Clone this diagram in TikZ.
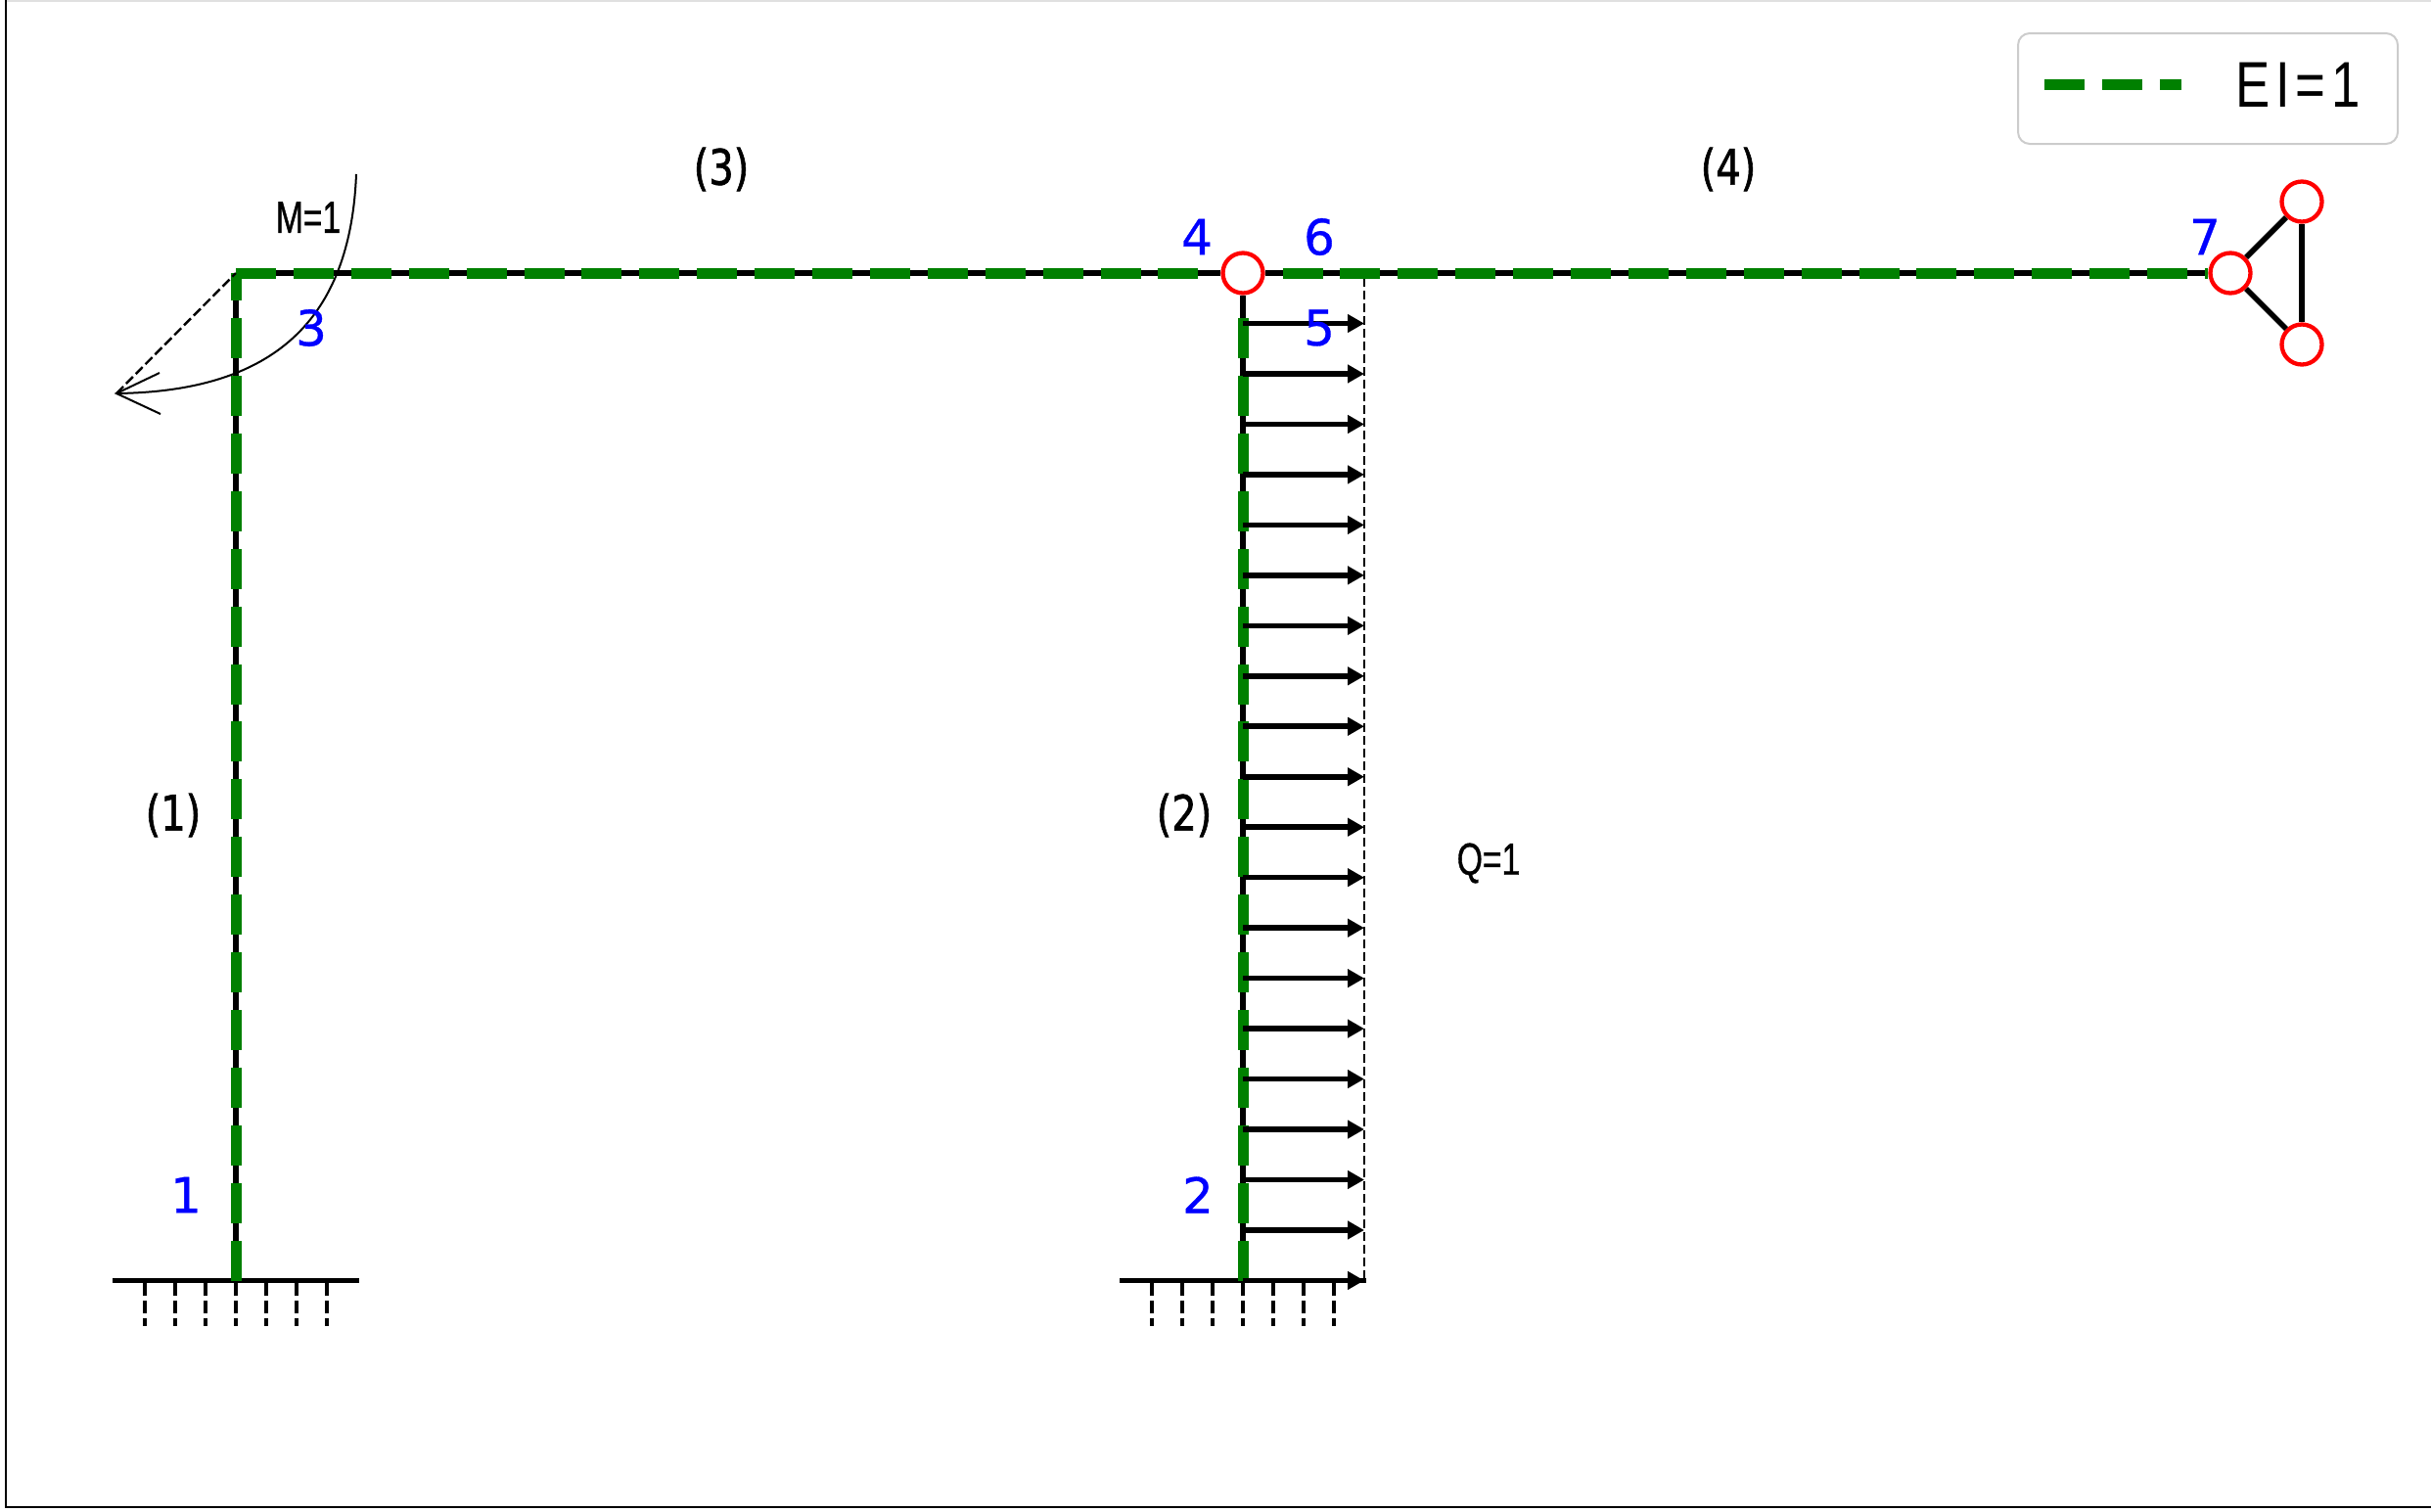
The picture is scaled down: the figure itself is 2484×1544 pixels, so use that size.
\documentclass[tikz,border=0pt]{standalone}
\usepackage{fontspec}
\setmainfont[FakeBold=0.6]{DejaVu Sans}
\newfontfamily\loadfont[FakeStretch=0.73,FakeBold=0.8]{Liberation Sans}
\newfontfamily\keyfont[FakeStretch=0.8,LetterSpace=9]{Liberation Sans}
\newfontfamily\memfont[FakeStretch=0.8,FakeBold=1.2]{DejaVu Sans}
\usetikzlibrary{arrows.meta}
\definecolor{eigreen}{RGB}{0,128,0}
\tikzset{
  member/.style={line width=2.8pt,black},
  stiff/.style={line width=5.5pt,eigreen,dash pattern=on 20.5pt off 8.95pt},
  hinge/.style={circle,draw=red,fill=white,line width=2.15pt,minimum size=20.5pt,inner sep=0pt},
  groundline/.style={line width=2.8pt,black},
  groundtick/.style={line width=1.6pt,black,dash pattern=on 6.5pt off 2.5pt},
  loadarrow/.style={line width=2.8pt,black,-{Triangle[length=8.5pt,width=9pt]}},
  loadedge/.style={line width=1.4pt,black,dash pattern=on 4.5pt off 2pt},
  nodenum/.style={text=blue,font=\fontsize{25}{25}\selectfont,inner sep=0pt},
  memnum/.style={text=black,font=\memfont\fontsize{25}{25}\selectfont,inner sep=0pt},
  loadtext/.style={text=black,font=\loadfont\fontsize{23}{23}\selectfont,inner sep=0pt},
}
\begin{document}
\begin{tikzpicture}[x=0.5pt,y=-0.5pt]
  \useasboundingbox (0,0) rectangle (2484,1544);
  % frame
  \draw[black!12,line width=1pt] (5,0.5) -- (2484,0.5);
  \draw[black,line width=1pt] (5.5,0) -- (5.5,1540) -- (2484,1540);

  % supports and joints
  \coordinate (n1) at (241,1308.5);
  \coordinate (n2) at (1270,1308.5);
  \coordinate (n3) at (241,279);
  \node[hinge] (n4) at (1270,279) {};
  \node[hinge] (n7) at (2279,279) {};
  \node[hinge] (n7a) at (2352,206) {};
  \node[hinge] (n7b) at (2352,352) {};

  % ground
  \foreach \base/\x in {n1/241,n2/1270} {
    \coordinate (\base l) at (\x-126,1308.5);
    \coordinate (\base r) at (\x+126,1308.5);
    \draw[groundline] (\base l) -- (\base r);
    \foreach \k in {-3,...,3} {
      \coordinate (\base t\k) at (\x+\k*31,1311);
      \coordinate (\base b\k) at (\x+\k*31,1355);
      \draw[groundtick] (\base t\k) -- (\base b\k);
    }
  }

  % members
  \draw[member] (n1) -- (n3);
  \draw[member] (n2) -- (n4);
  \draw[member] (n3) -- (n4);
  \draw[member] (n4) -- (n7);
  \draw[member] (n7) -- (n7a);
  \draw[member] (n7) -- (n7b);
  \draw[member] (n7a) -- (n7b);

  % load edge
  \coordinate (qtop) at (1394,284);
  \coordinate (qbot) at (1394,1308);
  \draw[loadedge] (qtop) -- (qbot);

  % stiffness overlay
  \draw[stiff] (n1) -- (n3);
  \draw[stiff,shorten >=6pt] (n2) -- (n4);
  \draw[stiff,shorten >=3pt] (n3) -- (n4);
  \draw[stiff,dash phase=20.5pt] (n4) -- (n7);

  % distributed load
  \foreach \k in {0,...,19} {
    \coordinate (qa\k) at (1270,330.5+\k*51.47);
    \coordinate (qb\k) at (1394,330.5+\k*51.47);
    \draw[loadarrow] (qa\k) -- (qb\k);
  }

  % moment
  \coordinate (mstart) at (364,178);
  \coordinate (mtip) at (119,402);
  \coordinate (mupper) at (163,381);
  \coordinate (mlower) at (164,423);
  \draw[line width=1pt] (mstart) .. controls (358,327) and (280,400) .. (mtip);
  \draw[line width=1pt] (mupper) -- (mtip) -- (mlower);
  \draw[line width=1.2pt,dash pattern=on 5pt off 2pt] (mtip) -- (n3);

  % labels
  \node[nodenum] (l1) at (190,1221) {1};
  \node[nodenum] (l2) at (1224,1221) {2};
  \node[nodenum] (l3) at (318,335) {3};
  \node[nodenum] (l4) at (1223,242) {4};
  \node[nodenum] (l5) at (1348,335) {5};
  \node[nodenum] (l6) at (1348,242) {6};
  \node[nodenum] (l7) at (2253,242) {7};
  \node[memnum] (m1) at (177,833) {(1)};
  \node[memnum] (m2) at (1210,833) {(2)};
  \node[memnum] (m3) at (737,173) {(3)};
  \node[memnum] (m4) at (1766,173) {(4)};
  \node[loadtext] (lm) at (315,222) {M=1};
  \node[loadtext] (lq) at (1521,882) {Q=1};

  % legend
  \draw[rounded corners=6pt,black!20,line width=1pt,fill=white] (2062,34) rectangle (2450,147);
  \coordinate (ka) at (2089,86);
  \coordinate (kb) at (2229,86);
  \draw[stiff] (ka) -- (kb);
  \node[text=black,font=\keyfont\fontsize{33}{33}\selectfont,inner sep=0pt] (lk) at (2348,87) {EI=1};
\end{tikzpicture}
\end{document}
